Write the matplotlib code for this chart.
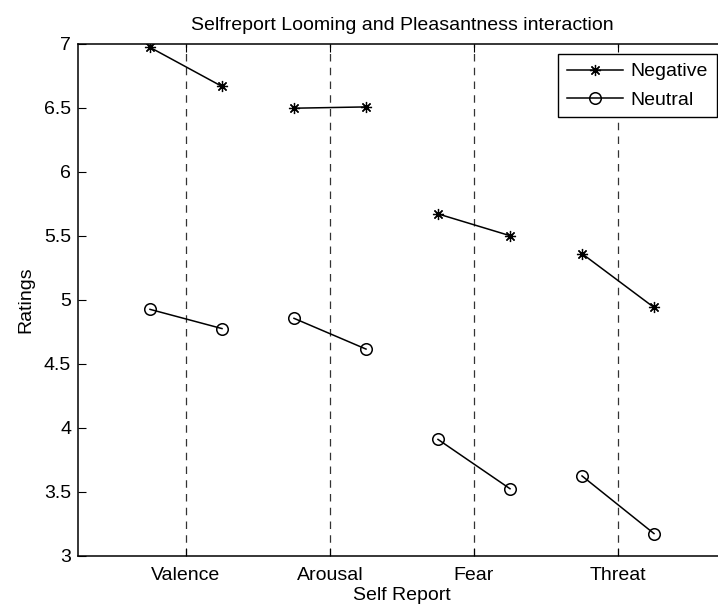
import matplotlib
matplotlib.use('Agg')
import matplotlib.pyplot as plt

#==============================================
# data

categories = ['Valence', 'Arousal', 'Fear', 'Threat']
offset = 0.25

negative_left = [6.97, 6.495, 5.67, 5.36]
negative_right = [6.665, 6.505, 5.50, 4.94]
neutral_left = [4.925, 4.855, 3.91, 3.625]
neutral_right = [4.775, 4.615, 3.525, 3.175]

yticks = [3, 3.5, 4, 4.5, 5, 5.5, 6, 6.5, 7]

#==============================================

plt.rcParams['font.family'] = ['Liberation Sans', 'DejaVu Sans']
fs = 14

fig = plt.figure(figsize=(7.18, 6.06), dpi=100)
ax = fig.add_axes([78/718, 50/606, 648/718, 512.5/606])

pos = list(range(1, len(categories) + 1))

for p in pos:
    ax.axvline(p, color='#333333', linestyle=(0, (6, 5)), linewidth=0.9, zorder=1)

star = (8, 2, 0)
for i, p in enumerate(pos):
    ax.plot([p - offset, p + offset], [negative_left[i], negative_right[i]],
            color='black', linewidth=1.1, marker=star, markersize=8,
            markeredgewidth=0.9, label='Negative' if i == 0 else None, zorder=3)
    ax.plot([p - offset, p + offset], [neutral_left[i], neutral_right[i]],
            color='black', linewidth=1.1, marker='o', markersize=8.3,
            markerfacecolor='none', markeredgewidth=1.1,
            label='Neutral' if i == 0 else None, zorder=3)

ax.set_xlim(0.25, 4.75)
ax.set_ylim(3, 7)
ax.set_xticks(pos)
ax.set_xticklabels(categories, fontsize=fs)
ax.set_yticks(yticks)
ax.set_yticklabels(['%g' % v for v in yticks], fontsize=fs)
ax.tick_params(direction='in', length=6, width=0.8, top=True, right=True)
ax.tick_params(axis='x', pad=8)
ax.tick_params(axis='y', pad=5)
for s in ax.spines.values():
    s.set_linewidth(1.1)

ax.set_xlabel('Self Report', fontsize=fs, labelpad=2)
ax.set_ylabel('Ratings', fontsize=fs, labelpad=7)
ax.set_title('Selfreport Looming and Pleasantness interaction', fontsize=fs, pad=10)

leg = ax.legend(loc='upper right', bbox_to_anchor=(717/718, 1 - 54/606),
                bbox_transform=fig.transFigure, fontsize=fs, fancybox=False,
                edgecolor='black', framealpha=1, handlelength=2.9,
                handletextpad=0.4, labelspacing=0.55, borderpad=0.45,
                borderaxespad=0)
leg.get_frame().set_linewidth(1.0)

fig.savefig('out.png', dpi=100)
